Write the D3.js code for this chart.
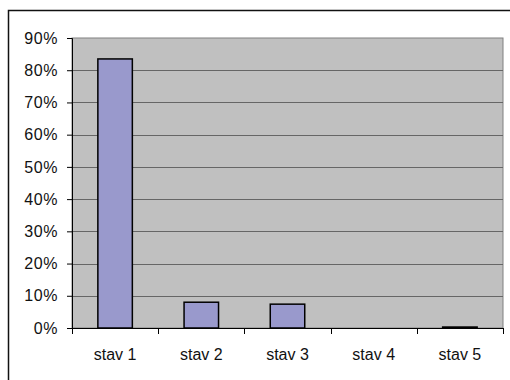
<!DOCTYPE html>
<html>
<head>
<meta charset="utf-8">
<script src="https://cdn.jsdelivr.net/npm/d3@7"></script>
<style>
  html, body { margin: 0; padding: 0; background: #fff; }
  svg { display: block; }
</style>
</head>
<body>
<svg id="chart" width="510" height="380"></svg>
<script>
const categories = ["stav 1", "stav 2", "stav 3", "stav 4", "stav 5"];
const values = [0.835, 0.080, 0.074, 0.0, 0.003];
const yTicks = [0, 0.1, 0.2, 0.3, 0.4, 0.5, 0.6, 0.7, 0.8, 0.9];

const svg = d3.select("#chart");
const font = "'Liberation Sans', Arial, sans-serif";

// outer chart frame (extends past the right and bottom edges)
svg.append("rect")
  .attr("x", 8.5).attr("y", 10.5)
  .attr("width", 520).attr("height", 400)
  .attr("fill", "#fff").attr("stroke", "#111").attr("stroke-width", 1.5);

const plot = { left: 72, top: 38, right: 503, bottom: 328 };

const x = d3.scaleBand().domain(categories)
  .range([plot.left, plot.right]).paddingInner(0.6).paddingOuter(0.3);
const xCat = d3.scaleBand().domain(categories).range([plot.left, plot.right]);
const y = d3.scaleLinear().domain([0, 0.9]).range([plot.bottom, plot.top]);

// plot background
svg.append("rect")
  .attr("x", plot.left).attr("y", plot.top)
  .attr("width", plot.right - plot.left).attr("height", plot.bottom - plot.top)
  .attr("fill", "#c0c0c0").attr("stroke", "#808080").attr("stroke-width", 1);

// horizontal gridlines
svg.append("g").selectAll("line").data(yTicks.filter(d => d > 0 && d < 0.9)).join("line")
  .attr("x1", plot.left).attr("x2", plot.right)
  .attr("y1", d => Math.round(y(d)) + 0.5).attr("y2", d => Math.round(y(d)) + 0.5)
  .attr("stroke", "#666").attr("stroke-width", 1.2);

// bars
svg.append("g").selectAll("rect").data(categories.map((c, i) => ({ c, v: values[i] }))).join("rect")
  .attr("x", d => x(d.c)).attr("width", x.bandwidth())
  .attr("y", d => y(d.v)).attr("height", d => y(0) - y(d.v))
  .attr("fill", "#9999cc").attr("stroke", "#000").attr("stroke-width", 1.5);

// y axis
const yAxis = d3.axisLeft(y).tickValues(yTicks).tickFormat(d3.format(".0%"))
  .tickSize(5).tickPadding(9);
const gy = svg.append("g").attr("transform", `translate(${plot.left},0)`).call(yAxis);
gy.select(".domain").attr("stroke", "#000");
gy.selectAll(".tick line").attr("stroke", "#000");
gy.selectAll(".tick text").attr("font-family", font).attr("font-size", 16)
  .attr("letter-spacing", 0.6).attr("fill", "#111");

// x axis: ticks at category boundaries
const gx = svg.append("g").attr("transform", `translate(0,${plot.bottom})`);
gx.append("line").attr("x1", plot.left).attr("x2", plot.right)
  .attr("y1", 0.5).attr("y2", 0.5).attr("stroke", "#000");
gx.selectAll("line.tk").data(categories.concat(["end"])).join("line").attr("class", "tk")
  .attr("x1", (d, i) => Math.round(i < categories.length ? xCat(d) : plot.right) + 0.5)
  .attr("x2", (d, i) => Math.round(i < categories.length ? xCat(d) : plot.right) + 0.5)
  .attr("y1", 0).attr("y2", 6).attr("stroke", "#000");
gx.selectAll("text").data(categories).join("text")
  .attr("x", d => xCat(d) + xCat.bandwidth() / 2)
  .attr("y", 32)
  .attr("text-anchor", "middle")
  .attr("font-family", font).attr("font-size", 16).attr("fill", "#111")
  .text(d => d);
</script>
</body>
</html>
